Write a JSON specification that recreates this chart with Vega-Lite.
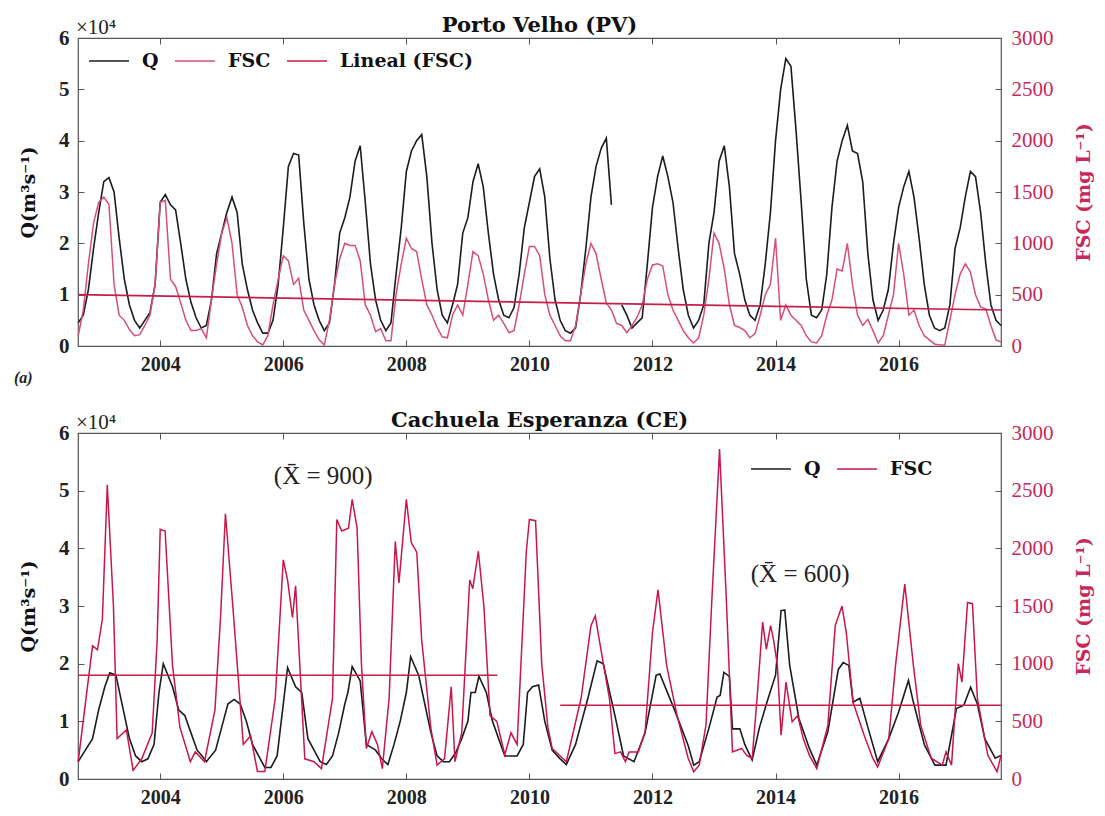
{
 "$schema": "https://vega.github.io/schema/vega-lite/v6.json",
 "background": "white",
 "padding": {"left": 13, "top": 14, "right": 8, "bottom": 6},
 "config": {
  "font": "Liberation Serif",
  "view": {"stroke": "#555555", "strokeWidth": 1.2},
  "axis": {"grid": false, "domain": false, "tickColor": "#555555", "tickSize": -6, "labelFont": "Liberation Serif", "titleFont": "DejaVu Serif"},
  "legend": {"labelFont": "DejaVu Serif", "labelFontSize": 19, "labelFontWeight": "bold", "labelColor": "#111111", "symbolType": "stroke", "symbolSize": 1600, "symbolStrokeWidth": 1.6, "direction": "horizontal", "columnPadding": 12, "labelOffset": 12, "title": null},
  "title": {"font": "DejaVu Serif", "fontSize": 21, "fontWeight": "bold", "color": "#111111", "anchor": "middle", "frame": "group", "offset": -19}
 },
 "datasets": {
  "pvQ": [
   {"t":2002.667,"v":4500},{"t":2002.75,"v":6000},{"t":2002.833,"v":11000},{"t":2002.917,"v":19000},
   {"t":2003.0,"v":26000},{"t":2003.083,"v":32000},{"t":2003.167,"v":32800},{"t":2003.25,"v":30000},{"t":2003.333,"v":21000},{"t":2003.417,"v":13000},{"t":2003.5,"v":8000},{"t":2003.583,"v":5000},{"t":2003.667,"v":3500},{"t":2003.75,"v":5000},{"t":2003.833,"v":6500},{"t":2003.917,"v":12000},
   {"t":2004.0,"v":28000},{"t":2004.083,"v":29500},{"t":2004.167,"v":27500},{"t":2004.25,"v":26500},{"t":2004.333,"v":20000},{"t":2004.417,"v":13000},{"t":2004.5,"v":8500},{"t":2004.583,"v":5500},{"t":2004.667,"v":3500},{"t":2004.75,"v":4000},{"t":2004.833,"v":9000},{"t":2004.917,"v":18000},
   {"t":2005.0,"v":22000},{"t":2005.083,"v":26000},{"t":2005.167,"v":29000},{"t":2005.25,"v":26000},{"t":2005.333,"v":16000},{"t":2005.417,"v":11000},{"t":2005.5,"v":7000},{"t":2005.583,"v":4500},{"t":2005.667,"v":2500},{"t":2005.75,"v":2500},{"t":2005.833,"v":5000},{"t":2005.917,"v":12000},
   {"t":2006.0,"v":23000},{"t":2006.083,"v":35000},{"t":2006.167,"v":37500},{"t":2006.25,"v":37200},{"t":2006.333,"v":24000},{"t":2006.417,"v":13000},{"t":2006.5,"v":8000},{"t":2006.583,"v":5000},{"t":2006.667,"v":3000},{"t":2006.75,"v":4500},{"t":2006.833,"v":12000},{"t":2006.917,"v":22000},
   {"t":2007.0,"v":25000},{"t":2007.083,"v":29000},{"t":2007.167,"v":36000},{"t":2007.25,"v":39000},{"t":2007.333,"v":28000},{"t":2007.417,"v":16000},{"t":2007.5,"v":9000},{"t":2007.583,"v":5000},{"t":2007.667,"v":3000},{"t":2007.75,"v":4500},{"t":2007.833,"v":14000},{"t":2007.917,"v":23000},
   {"t":2008.0,"v":34000},{"t":2008.083,"v":38000},{"t":2008.167,"v":40000},{"t":2008.25,"v":41200},{"t":2008.333,"v":33000},{"t":2008.417,"v":20000},{"t":2008.5,"v":11000},{"t":2008.583,"v":6000},{"t":2008.667,"v":4500},{"t":2008.75,"v":8000},{"t":2008.833,"v":12000},{"t":2008.917,"v":22000},
   {"t":2009.0,"v":25000},{"t":2009.083,"v":32000},{"t":2009.167,"v":35500},{"t":2009.25,"v":31000},{"t":2009.333,"v":22000},{"t":2009.417,"v":14000},{"t":2009.5,"v":9000},{"t":2009.583,"v":6000},{"t":2009.667,"v":5500},{"t":2009.75,"v":7500},{"t":2009.833,"v":14000},{"t":2009.917,"v":23000},
   {"t":2010.0,"v":28000},{"t":2010.083,"v":33000},{"t":2010.167,"v":34500},{"t":2010.25,"v":29000},{"t":2010.333,"v":17000},{"t":2010.417,"v":9000},{"t":2010.5,"v":5000},{"t":2010.583,"v":3000},{"t":2010.667,"v":2500},{"t":2010.75,"v":3500},{"t":2010.833,"v":10000},{"t":2010.917,"v":19000},
   {"t":2011.0,"v":29000},{"t":2011.083,"v":35000},{"t":2011.167,"v":38500},{"t":2011.25,"v":40500},{"t":2011.333,"v":27500},{"t":2011.417,"v":null},{"t":2011.5,"v":8000},{"t":2011.583,"v":6000},{"t":2011.667,"v":3500},{"t":2011.75,"v":4500},{"t":2011.833,"v":5500},{"t":2011.917,"v":16000},
   {"t":2012.0,"v":27000},{"t":2012.083,"v":33000},{"t":2012.167,"v":37000},{"t":2012.25,"v":33000},{"t":2012.333,"v":28000},{"t":2012.417,"v":19000},{"t":2012.5,"v":11000},{"t":2012.583,"v":6000},{"t":2012.667,"v":3500},{"t":2012.75,"v":5000},{"t":2012.833,"v":8000},{"t":2012.917,"v":20000},
   {"t":2013.0,"v":26000},{"t":2013.083,"v":36000},{"t":2013.167,"v":39000},{"t":2013.25,"v":31000},{"t":2013.333,"v":18000},{"t":2013.417,"v":14000},{"t":2013.5,"v":9000},{"t":2013.583,"v":6000},{"t":2013.667,"v":5000},{"t":2013.75,"v":8000},{"t":2013.833,"v":16000},{"t":2013.917,"v":26000},
   {"t":2014.0,"v":40000},{"t":2014.083,"v":50000},{"t":2014.167,"v":56000},{"t":2014.25,"v":54500},{"t":2014.333,"v":42000},{"t":2014.417,"v":28000},{"t":2014.5,"v":13000},{"t":2014.583,"v":6000},{"t":2014.667,"v":5500},{"t":2014.75,"v":7000},{"t":2014.833,"v":14000},{"t":2014.917,"v":27000},
   {"t":2015.0,"v":36000},{"t":2015.083,"v":40000},{"t":2015.167,"v":43000},{"t":2015.25,"v":38000},{"t":2015.333,"v":37500},{"t":2015.417,"v":32000},{"t":2015.5,"v":18000},{"t":2015.583,"v":9000},{"t":2015.667,"v":5000},{"t":2015.75,"v":7000},{"t":2015.833,"v":11000},{"t":2015.917,"v":20000},
   {"t":2016.0,"v":27000},{"t":2016.083,"v":31000},{"t":2016.167,"v":34000},{"t":2016.25,"v":29000},{"t":2016.333,"v":21000},{"t":2016.417,"v":12000},{"t":2016.5,"v":6000},{"t":2016.583,"v":3500},{"t":2016.667,"v":3000},{"t":2016.75,"v":3500},{"t":2016.833,"v":8000},{"t":2016.917,"v":19000},
   {"t":2017.0,"v":23000},{"t":2017.083,"v":29000},{"t":2017.167,"v":34000},{"t":2017.25,"v":33000},{"t":2017.333,"v":26000},{"t":2017.417,"v":16000},{"t":2017.5,"v":8000},{"t":2017.583,"v":5000},{"t":2017.664,"v":4000}
  ],
  "pvF": [
   {"t":2002.667,"v":100},{"t":2002.75,"v":350},{"t":2002.833,"v":800},{"t":2002.917,"v":1200},
   {"t":2003.0,"v":1400},{"t":2003.083,"v":1450},{"t":2003.167,"v":1380},{"t":2003.25,"v":600},{"t":2003.333,"v":300},{"t":2003.417,"v":250},{"t":2003.5,"v":160},{"t":2003.583,"v":100},{"t":2003.667,"v":110},{"t":2003.75,"v":200},{"t":2003.833,"v":300},{"t":2003.917,"v":600},
   {"t":2004.0,"v":1400},{"t":2004.083,"v":1420},{"t":2004.167,"v":650},{"t":2004.25,"v":580},{"t":2004.333,"v":420},{"t":2004.417,"v":250},{"t":2004.5,"v":150},{"t":2004.583,"v":150},{"t":2004.667,"v":170},{"t":2004.75,"v":80},{"t":2004.833,"v":450},{"t":2004.917,"v":800},
   {"t":2005.0,"v":1100},{"t":2005.083,"v":1250},{"t":2005.167,"v":1000},{"t":2005.25,"v":500},{"t":2005.333,"v":380},{"t":2005.417,"v":200},{"t":2005.5,"v":100},{"t":2005.583,"v":40},{"t":2005.667,"v":10},{"t":2005.75,"v":100},{"t":2005.833,"v":400},{"t":2005.917,"v":650},
   {"t":2006.0,"v":880},{"t":2006.083,"v":830},{"t":2006.167,"v":600},{"t":2006.25,"v":660},{"t":2006.333,"v":350},{"t":2006.417,"v":250},{"t":2006.5,"v":150},{"t":2006.583,"v":60},{"t":2006.667,"v":10},{"t":2006.75,"v":250},{"t":2006.833,"v":600},{"t":2006.917,"v":850},
   {"t":2007.0,"v":1000},{"t":2007.083,"v":980},{"t":2007.167,"v":980},{"t":2007.25,"v":830},{"t":2007.333,"v":400},{"t":2007.417,"v":300},{"t":2007.5,"v":140},{"t":2007.583,"v":170},{"t":2007.667,"v":50},{"t":2007.75,"v":50},{"t":2007.833,"v":500},{"t":2007.917,"v":800},
   {"t":2008.0,"v":1050},{"t":2008.083,"v":950},{"t":2008.167,"v":920},{"t":2008.25,"v":650},{"t":2008.333,"v":400},{"t":2008.417,"v":300},{"t":2008.5,"v":180},{"t":2008.583,"v":90},{"t":2008.667,"v":80},{"t":2008.75,"v":300},{"t":2008.833,"v":400},{"t":2008.917,"v":300},
   {"t":2009.0,"v":600},{"t":2009.083,"v":920},{"t":2009.167,"v":880},{"t":2009.25,"v":700},{"t":2009.333,"v":450},{"t":2009.417,"v":250},{"t":2009.5,"v":300},{"t":2009.583,"v":220},{"t":2009.667,"v":130},{"t":2009.75,"v":150},{"t":2009.833,"v":400},{"t":2009.917,"v":700},
   {"t":2010.0,"v":970},{"t":2010.083,"v":970},{"t":2010.167,"v":880},{"t":2010.25,"v":500},{"t":2010.333,"v":300},{"t":2010.417,"v":200},{"t":2010.5,"v":100},{"t":2010.583,"v":50},{"t":2010.667,"v":50},{"t":2010.75,"v":200},{"t":2010.833,"v":500},{"t":2010.917,"v":800},
   {"t":2011.0,"v":1000},{"t":2011.083,"v":900},{"t":2011.167,"v":650},{"t":2011.25,"v":420},{"t":2011.333,"v":350},{"t":2011.417,"v":220},{"t":2011.5,"v":200},{"t":2011.583,"v":130},{"t":2011.667,"v":200},{"t":2011.75,"v":280},{"t":2011.833,"v":400},{"t":2011.917,"v":650},
   {"t":2012.0,"v":790},{"t":2012.083,"v":800},{"t":2012.167,"v":780},{"t":2012.25,"v":500},{"t":2012.333,"v":350},{"t":2012.417,"v":250},{"t":2012.5,"v":150},{"t":2012.583,"v":80},{"t":2012.667,"v":30},{"t":2012.75,"v":80},{"t":2012.833,"v":300},{"t":2012.917,"v":650},
   {"t":2013.0,"v":1100},{"t":2013.083,"v":1000},{"t":2013.167,"v":750},{"t":2013.25,"v":400},{"t":2013.333,"v":200},{"t":2013.417,"v":180},{"t":2013.5,"v":150},{"t":2013.583,"v":80},{"t":2013.667,"v":120},{"t":2013.75,"v":300},{"t":2013.833,"v":500},{"t":2013.917,"v":600},
   {"t":2014.0,"v":1050},{"t":2014.083,"v":250},{"t":2014.167,"v":400},{"t":2014.25,"v":300},{"t":2014.333,"v":250},{"t":2014.417,"v":200},{"t":2014.5,"v":100},{"t":2014.583,"v":40},{"t":2014.667,"v":30},{"t":2014.75,"v":100},{"t":2014.833,"v":300},{"t":2014.917,"v":450},
   {"t":2015.0,"v":750},{"t":2015.083,"v":730},{"t":2015.167,"v":1000},{"t":2015.25,"v":600},{"t":2015.333,"v":300},{"t":2015.417,"v":200},{"t":2015.5,"v":260},{"t":2015.583,"v":150},{"t":2015.667,"v":30},{"t":2015.75,"v":100},{"t":2015.833,"v":300},{"t":2015.917,"v":500},
   {"t":2016.0,"v":1000},{"t":2016.083,"v":700},{"t":2016.167,"v":300},{"t":2016.25,"v":350},{"t":2016.333,"v":200},{"t":2016.417,"v":100},{"t":2016.5,"v":60},{"t":2016.583,"v":20},{"t":2016.667,"v":10},{"t":2016.75,"v":10},{"t":2016.833,"v":250},{"t":2016.917,"v":500},
   {"t":2017.0,"v":700},{"t":2017.083,"v":800},{"t":2017.167,"v":720},{"t":2017.25,"v":500},{"t":2017.333,"v":380},{"t":2017.417,"v":360},{"t":2017.5,"v":200},{"t":2017.583,"v":60},{"t":2017.664,"v":40}
  ],
  "pvT": [{"t":2002.664,"v":500},{"t":2017.664,"v":350}],
  "ceQ": [
   {"t":2002.667,"v":3000},{"t":2002.9,"v":7000},{"t":2003.0,"v":12000},{"t":2003.1,"v":16000},{"t":2003.18,"v":18400},{"t":2003.28,"v":18000},{"t":2003.4,"v":12000},{"t":2003.5,"v":7000},{"t":2003.6,"v":4000},{"t":2003.7,"v":3000},{"t":2003.8,"v":3500},{"t":2003.9,"v":6000},{"t":2003.98,"v":15000},
   {"t":2004.05,"v":20000},{"t":2004.2,"v":16000},{"t":2004.3,"v":12000},{"t":2004.4,"v":11000},{"t":2004.5,"v":8000},{"t":2004.6,"v":5000},{"t":2004.68,"v":4000},{"t":2004.75,"v":3000},{"t":2004.9,"v":5000},
   {"t":2005.0,"v":9000},{"t":2005.1,"v":13000},{"t":2005.2,"v":13800},{"t":2005.3,"v":13000},{"t":2005.4,"v":10000},{"t":2005.5,"v":6000},{"t":2005.6,"v":4000},{"t":2005.7,"v":2000},{"t":2005.8,"v":2000},{"t":2005.9,"v":4000},
   {"t":2006.0,"v":13000},{"t":2006.07,"v":19300},{"t":2006.2,"v":16000},{"t":2006.3,"v":15000},{"t":2006.4,"v":7000},{"t":2006.5,"v":5000},{"t":2006.6,"v":3000},{"t":2006.7,"v":2500},{"t":2006.8,"v":4000},{"t":2006.9,"v":8000},
   {"t":2007.0,"v":13000},{"t":2007.05,"v":15000},{"t":2007.12,"v":19500},{"t":2007.25,"v":17000},{"t":2007.35,"v":6000},{"t":2007.5,"v":5000},{"t":2007.6,"v":3500},{"t":2007.7,"v":2500},{"t":2007.8,"v":6000},{"t":2007.9,"v":10000},
   {"t":2008.0,"v":15000},{"t":2008.07,"v":21200},{"t":2008.2,"v":18000},{"t":2008.3,"v":13000},{"t":2008.4,"v":8000},{"t":2008.5,"v":4000},{"t":2008.6,"v":3000},{"t":2008.7,"v":3000},{"t":2008.8,"v":4500},{"t":2008.9,"v":7000},
   {"t":2009.0,"v":10000},{"t":2009.05,"v":15000},{"t":2009.12,"v":15000},{"t":2009.18,"v":17800},{"t":2009.3,"v":15000},{"t":2009.4,"v":10000},{"t":2009.5,"v":7000},{"t":2009.6,"v":4000},{"t":2009.7,"v":4000},{"t":2009.8,"v":4000},{"t":2009.9,"v":6000},{"t":2009.97,"v":15000},
   {"t":2010.05,"v":16000},{"t":2010.15,"v":16300},{"t":2010.25,"v":10000},{"t":2010.37,"v":5000},{"t":2010.5,"v":3500},{"t":2010.6,"v":2500},{"t":2010.75,"v":6000},{"t":2010.95,"v":14000},
   {"t":2011.1,"v":20500},{"t":2011.2,"v":20000},{"t":2011.39,"v":11000},{"t":2011.53,"v":4000},{"t":2011.7,"v":3000},{"t":2011.88,"v":8000},
   {"t":2012.06,"v":18000},{"t":2012.12,"v":18200},{"t":2012.35,"v":12200},{"t":2012.58,"v":5800},{"t":2012.67,"v":2400},{"t":2012.76,"v":3000},{"t":2012.93,"v":9300},
   {"t":2013.05,"v":14200},{"t":2013.1,"v":14500},{"t":2013.16,"v":18500},{"t":2013.25,"v":17800},{"t":2013.3,"v":8700},{"t":2013.42,"v":8700},{"t":2013.5,"v":6000},{"t":2013.62,"v":3300},{"t":2013.74,"v":9000},{"t":2013.86,"v":13300},
   {"t":2014.0,"v":18000},{"t":2014.09,"v":29200},{"t":2014.15,"v":29300},{"t":2014.23,"v":19700},{"t":2014.38,"v":10500},{"t":2014.55,"v":5300},{"t":2014.67,"v":2400},{"t":2014.85,"v":8200},
   {"t":2015.02,"v":19000},{"t":2015.1,"v":20200},{"t":2015.19,"v":19700},{"t":2015.26,"v":13300},{"t":2015.37,"v":14000},{"t":2015.5,"v":9000},{"t":2015.66,"v":3000},{"t":2015.84,"v":7000},
   {"t":2016.0,"v":11600},{"t":2016.16,"v":17100},{"t":2016.24,"v":13300},{"t":2016.42,"v":5900},{"t":2016.59,"v":2400},{"t":2016.77,"v":2400},{"t":2016.94,"v":12200},
   {"t":2017.06,"v":12800},{"t":2017.17,"v":15900},{"t":2017.28,"v":13000},{"t":2017.4,"v":7000},{"t":2017.57,"v":3600},{"t":2017.664,"v":4100}
  ],
  "ceF": [
   {"t":2002.667,"v":150},{"t":2002.9,"v":1155},{"t":2002.98,"v":1120},{"t":2003.06,"v":1385},{"t":2003.14,"v":2550},{"t":2003.24,"v":1500},{"t":2003.3,"v":350},{"t":2003.45,"v":425},{"t":2003.56,"v":75},{"t":2003.7,"v":175},{"t":2003.87,"v":400},{"t":2003.95,"v":1200},
   {"t":2004.0,"v":2165},{"t":2004.08,"v":2150},{"t":2004.2,"v":985},{"t":2004.32,"v":450},{"t":2004.49,"v":150},{"t":2004.57,"v":235},{"t":2004.72,"v":150},{"t":2004.89,"v":600},{"t":2004.98,"v":1400},
   {"t":2005.06,"v":2300},{"t":2005.18,"v":1500},{"t":2005.35,"v":300},{"t":2005.47,"v":375},{"t":2005.58,"v":65},{"t":2005.7,"v":65},{"t":2005.87,"v":700},
   {"t":2006.0,"v":1900},{"t":2006.07,"v":1725},{"t":2006.15,"v":1400},{"t":2006.2,"v":1675},{"t":2006.35,"v":175},{"t":2006.5,"v":150},{"t":2006.62,"v":90},{"t":2006.8,"v":700},{"t":2006.87,"v":2250},{"t":2006.95,"v":2150},
   {"t":2007.06,"v":2175},{"t":2007.12,"v":2425},{"t":2007.2,"v":2175},{"t":2007.27,"v":1000},{"t":2007.35,"v":265},{"t":2007.44,"v":410},{"t":2007.53,"v":300},{"t":2007.61,"v":90},{"t":2007.72,"v":700},{"t":2007.82,"v":2060},{"t":2007.88,"v":1700},
   {"t":2008.0,"v":2425},{"t":2008.08,"v":2050},{"t":2008.17,"v":1965},{"t":2008.25,"v":1200},{"t":2008.4,"v":435},{"t":2008.5,"v":120},{"t":2008.62,"v":175},{"t":2008.73,"v":800},{"t":2008.79,"v":150},{"t":2008.9,"v":400},
   {"t":2009.03,"v":1725},{"t":2009.08,"v":1650},{"t":2009.17,"v":1975},{"t":2009.26,"v":1500},{"t":2009.36,"v":550},{"t":2009.47,"v":500},{"t":2009.6,"v":210},{"t":2009.7,"v":400},{"t":2009.8,"v":300},{"t":2009.95,"v":1975},
   {"t":2010.0,"v":2250},{"t":2010.1,"v":2240},{"t":2010.2,"v":1000},{"t":2010.3,"v":450},{"t":2010.37,"v":265},{"t":2010.6,"v":150},{"t":2010.84,"v":700},
   {"t":2011.0,"v":1330},{"t":2011.07,"v":1415},{"t":2011.15,"v":1160},{"t":2011.3,"v":700},{"t":2011.39,"v":220},{"t":2011.48,"v":235},{"t":2011.56,"v":150},{"t":2011.62,"v":235},{"t":2011.77,"v":235},{"t":2011.88,"v":410},
   {"t":2012.0,"v":1270},{"t":2012.09,"v":1640},{"t":2012.23,"v":985},{"t":2012.4,"v":550},{"t":2012.58,"v":180},{"t":2012.67,"v":63},{"t":2012.76,"v":120},{"t":2012.87,"v":470},{"t":2012.96,"v":1500},
   {"t":2013.09,"v":2860},{"t":2013.2,"v":1560},{"t":2013.3,"v":235},{"t":2013.45,"v":265},{"t":2013.53,"v":205},{"t":2013.62,"v":180},{"t":2013.7,"v":700},{"t":2013.79,"v":1360},{"t":2013.85,"v":1125},{"t":2013.92,"v":1330},{"t":2013.97,"v":1200},
   {"t":2014.03,"v":985},{"t":2014.09,"v":380},{"t":2014.17,"v":840},{"t":2014.27,"v":495},{"t":2014.36,"v":550},{"t":2014.45,"v":350},{"t":2014.55,"v":205},{"t":2014.67,"v":90},{"t":2014.85,"v":465},{"t":2014.97,"v":1330},
   {"t":2015.08,"v":1500},{"t":2015.15,"v":1270},{"t":2015.26,"v":665},{"t":2015.44,"v":380},{"t":2015.58,"v":180},{"t":2015.66,"v":105},{"t":2015.84,"v":350},{"t":2015.95,"v":985},
   {"t":2016.1,"v":1690},{"t":2016.24,"v":985},{"t":2016.36,"v":465},{"t":2016.53,"v":180},{"t":2016.71,"v":120},{"t":2016.77,"v":235},{"t":2016.86,"v":120},{"t":2016.97,"v":1000},
   {"t":2017.03,"v":840},{"t":2017.12,"v":1530},{"t":2017.2,"v":1520},{"t":2017.28,"v":700},{"t":2017.45,"v":205},{"t":2017.6,"v":63},{"t":2017.664,"v":205}
  ],
  "ceM": [
   {"t":2002.664,"v":900,"period":"2002-2009"},{"t":2009.48,"v":900,"period":"2002-2009"},
   {"t":2010.5,"v":640,"period":"2010-2017"},{"t":2017.664,"v":640,"period":"2010-2017"}
  ],
  "pvNotes": [
   {"t":2002.664,"v":3000,"label":"×10⁴"}
  ],
  "pvPanel": [
   {"t":2002.664,"v":0,"label":"(a)"}
  ],
  "ceNotes": [
   {"t":2002.664,"v":3000,"label":"×10⁴"}
  ],
  "ceMeans": [
   {"t":2006.65,"v":2630,"label":"(X̄ = 900)"},
   {"t":2014.4,"v":1780,"label":"(X̄ = 600)"}
  ]
 },
 "vconcat": [
  {
   "width": 923,
   "height": 308,
   "title": {"text": "Porto Velho (PV)"},
   "layer": [
    {
     "data": {"name": "pvQ"},
     "mark": {"type": "line", "strokeWidth": 1.6, "invalid": "break-paths-show-domains"},
     "encoding": {
      "x": {"field": "t", "type": "quantitative", "scale": {"domain": [2002.664, 2017.664], "nice": false, "zero": false},
            "axis": {"orient": "bottom", "values": [2004, 2006, 2008, 2010, 2012, 2014, 2016], "format": "d", "title": null, "labelFontSize": 20, "labelFontWeight": "bold", "labelColor": "#222222", "labelPadding": 14}},
      "y": {"field": "v", "type": "quantitative", "scale": {"domain": [0, 60000], "nice": false},
            "axis": {"orient": "left", "values": [0, 10000, 20000, 30000, 40000, 50000, 60000], "labelExpr": "datum.value / 10000", "title": "Q(m³s⁻¹)", "titleFontSize": 19, "titleFontWeight": "bold", "titleColor": "#111111", "titlePadding": 20, "labelFontSize": 21, "labelFontWeight": "bold", "labelColor": "#222222", "labelPadding": 15}},
      "color": {"datum": "Q", "type": "nominal", "scale": {"domain": ["Q", "FSC", "Lineal (FSC)"], "range": ["#1c1c1c", "#d64f7a", "#c41e4a"]}, "legend": {"orient": "none", "legendX": 10, "legendY": 2}}
     }
    },
    {
     "layer": [
      {
       "data": {"name": "pvF"},
       "mark": {"type": "line", "strokeWidth": 1.5},
       "encoding": {
        "x": {"field": "t", "type": "quantitative", "axis": {"orient": "top", "values": [2004, 2006, 2008, 2010, 2012, 2014, 2016], "labels": false, "title": null, "minExtent": 0, "maxExtent": 0}},
        "y": {"field": "v", "type": "quantitative", "scale": {"domain": [0, 3000], "nice": false},
              "axis": {"orient": "right", "values": [0, 500, 1000, 1500, 2000, 2500, 3000], "format": "d", "title": "FSC (mg L⁻¹)", "titleAngle": 270, "titleFontSize": 19, "titleFontWeight": "bold", "titleColor": "#c8285a", "titlePadding": 40, "labelFontSize": 21, "labelColor": "#c8285a", "labelPadding": 16}},
        "color": {"datum": "FSC", "type": "nominal"}
       }
      },
      {
       "data": {"name": "pvT"},
       "mark": {"type": "line", "strokeWidth": 1.6},
       "encoding": {
        "x": {"field": "t", "type": "quantitative"},
        "y": {"field": "v", "type": "quantitative"},
        "color": {"datum": "Lineal (FSC)", "type": "nominal"}
       }
      },
      {
       "data": {"name": "pvNotes"},
       "mark": {"type": "text", "align": "left", "baseline": "alphabetic", "dy": -4, "dx": -2, "fontSize": 21, "color": "#222222"},
       "encoding": {"x": {"field": "t", "type": "quantitative"}, "y": {"field": "v", "type": "quantitative"}, "text": {"field": "label"}}
      },
      {
       "data": {"name": "pvPanel"},
       "mark": {"type": "text", "align": "left", "baseline": "middle", "dx": -64, "dy": 32, "fontSize": 16, "fontStyle": "italic", "fontWeight": "bold", "color": "#222222"},
       "encoding": {"x": {"field": "t", "type": "quantitative"}, "y": {"field": "v", "type": "quantitative"}, "text": {"field": "label"}}
      }
     ]
    }
   ],
   "resolve": {"scale": {"y": "independent"}, "axis": {"x": "independent"}}
  },
  {
   "width": 923,
   "height": 346,
   "title": {"text": "Cachuela Esperanza (CE)"},
   "layer": [
    {
     "data": {"name": "ceQ"},
     "mark": {"type": "line", "strokeWidth": 1.6},
     "encoding": {
      "x": {"field": "t", "type": "quantitative", "scale": {"domain": [2002.664, 2017.664], "nice": false, "zero": false},
            "axis": {"orient": "bottom", "values": [2004, 2006, 2008, 2010, 2012, 2014, 2016], "format": "d", "title": null, "labelFontSize": 20, "labelFontWeight": "bold", "labelColor": "#222222", "labelPadding": 14}},
      "y": {"field": "v", "type": "quantitative", "scale": {"domain": [0, 60000], "nice": false},
            "axis": {"orient": "left", "values": [0, 10000, 20000, 30000, 40000, 50000, 60000], "labelExpr": "datum.value / 10000", "title": "Q(m³s⁻¹)", "titleFontSize": 19, "titleFontWeight": "bold", "titleColor": "#111111", "titlePadding": 20, "labelFontSize": 21, "labelFontWeight": "bold", "labelColor": "#222222", "labelPadding": 15}},
      "color": {"datum": "Q", "type": "nominal", "scale": {"domain": ["Q", "FSC"], "range": ["#1c1c1c", "#c8174a"]}, "legend": {"orient": "none", "legendX": 672, "legendY": 15}}
     }
    },
    {
     "layer": [
      {
       "data": {"name": "ceF"},
       "mark": {"type": "line", "strokeWidth": 1.5},
       "encoding": {
        "x": {"field": "t", "type": "quantitative", "axis": {"orient": "top", "values": [2004, 2006, 2008, 2010, 2012, 2014, 2016], "labels": false, "title": null, "minExtent": 0, "maxExtent": 0}},
        "y": {"field": "v", "type": "quantitative", "scale": {"domain": [0, 3000], "nice": false},
              "axis": {"orient": "right", "values": [0, 500, 1000, 1500, 2000, 2500, 3000], "format": "d", "title": "FSC (mg L⁻¹)", "titleAngle": 270, "titleFontSize": 19, "titleFontWeight": "bold", "titleColor": "#c8285a", "titlePadding": 40, "labelFontSize": 21, "labelColor": "#c8285a", "labelPadding": 16}},
        "color": {"datum": "FSC", "type": "nominal"}
       }
      },
      {
       "data": {"name": "ceM"},
       "mark": {"type": "line", "strokeWidth": 1.6, "color": "#c41e4a"},
       "encoding": {
        "x": {"field": "t", "type": "quantitative"},
        "y": {"field": "v", "type": "quantitative"},
        "detail": {"field": "period"}
       }
      },
      {
       "data": {"name": "ceNotes"},
       "mark": {"type": "text", "align": "left", "baseline": "alphabetic", "dy": -4, "dx": -2, "fontSize": 21, "color": "#222222"},
       "encoding": {"x": {"field": "t", "type": "quantitative"}, "y": {"field": "v", "type": "quantitative"}, "text": {"field": "label"}}
      },
      {
       "data": {"name": "ceMeans"},
       "mark": {"type": "text", "align": "center", "baseline": "middle", "fontSize": 25, "color": "#222222"},
       "encoding": {"x": {"field": "t", "type": "quantitative"}, "y": {"field": "v", "type": "quantitative"}, "text": {"field": "label"}}
      }
     ]
    }
   ],
   "resolve": {"scale": {"y": "independent"}, "axis": {"x": "independent"}}
  }
 ],
 "spacing": 87,
 "bounds": "flush",
 "resolve": {"scale": {"color": "independent"}, "legend": {"color": "independent"}}
}
